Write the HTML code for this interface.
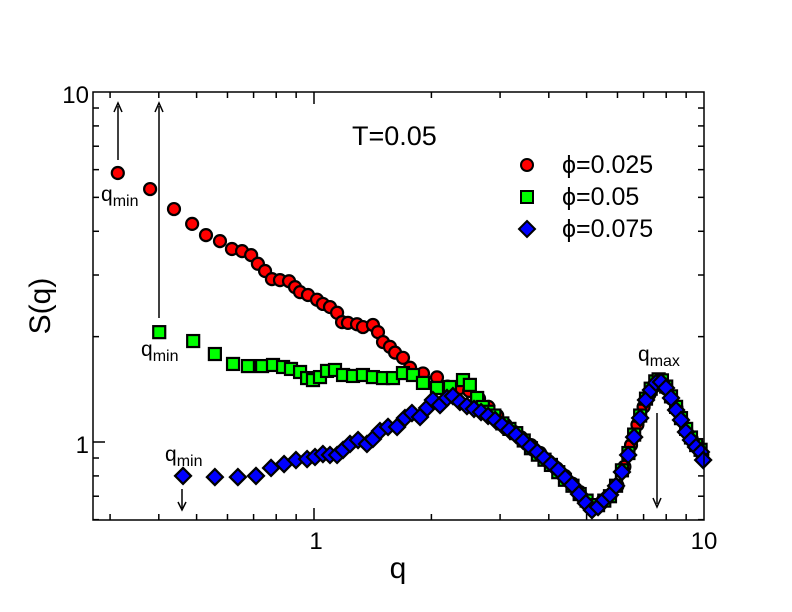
<!DOCTYPE html>
<html><head><meta charset="utf-8"><style>
body{margin:0;background:#fff}
svg{display:block;font-family:"Liberation Sans",sans-serif}
</style></head><body>
<svg id="chart" width="792" height="612" viewBox="0 0 792 612">
<rect x="0" y="0" width="792" height="612" fill="#fff"/>
<g id="ticks"></g>
<g id="marks"></g>
<rect x="93" y="92" width="611" height="428" fill="none" stroke="#000" stroke-width="1.5"/>
<text x="316" y="549" font-size="24" text-anchor="middle">1</text>
<text x="704" y="549" font-size="24" text-anchor="middle">10</text>
<text x="89" y="103" font-size="24" text-anchor="end">10</text>
<text x="89" y="453" font-size="24" text-anchor="end">1</text>
<text x="398" y="578" font-size="30" text-anchor="middle">q</text>
<text transform="translate(50,306) rotate(-90)" font-size="30" text-anchor="middle">S(q)</text>
<text x="352" y="145" font-size="27">T=0.05</text>
<g>
<g><circle cx="527" cy="165" r="6" fill="#f00" stroke="#000" stroke-width="2"/><text x="562" y="173" font-size="25">ϕ=0.025</text></g>
<g><rect x="521" y="191" width="12" height="12" fill="#0f0" stroke="#000" stroke-width="2"/><text x="562" y="205" font-size="25">ϕ=0.05</text></g>
<g><path d="M527 221 L535 229 L527 237 L519 229Z" fill="#00f" stroke="#000" stroke-width="2"/><text x="562" y="237" font-size="25">ϕ=0.075</text></g>
</g>
<g stroke="#000" stroke-width="1.5" fill="#000">
<g><line x1="118" y1="160" x2="118" y2="106"/><path d="M114 112 L118 103 L122 112" fill="none"/></g>
<g><line x1="159" y1="318" x2="159" y2="106"/><path d="M155 112 L159 103 L163 112" fill="none"/></g>
<g><line x1="182" y1="489" x2="182" y2="508"/><path d="M178 502 L182 510 L186 502" fill="none"/></g>
<g><line x1="657" y1="413" x2="657" y2="504"/><path d="M653 498 L657 507 L661 498" fill="none"/></g>
</g>
<text x="101" y="201" font-size="21">q<tspan font-size="16" dy="5">min</tspan></text>
<text x="141" y="356" font-size="21">q<tspan font-size="16" dy="5">min</tspan></text>
<text x="165" y="461" font-size="21">q<tspan font-size="16" dy="5">min</tspan></text>
<text x="638" y="361" font-size="21">q<tspan font-size="16" dy="5">max</tspan></text>
</svg>
<script>
const redQ=[0.314,0.380,0.4375,0.487,0.5285,0.574,0.616,0.654,0.690,0.718,0.749,0.780,0.818,0.863,0.894,0.921,0.965,1.018,1.054,1.099,1.146,1.180,1.222,1.289,1.335,1.416,1.459,1.503,1.566,1.614,1.691,1.763,1.903,2.067,2.2,2.35,2.5,2.65,2.8,2.95,3.1,3.25,3.4,3.6,3.8,4.0,4.2,4.4,4.6,4.8,5.0,5.25,5.5,5.75,6.0,6.25,6.5,6.75,7.0,7.25,7.5,7.75,8.0,8.25,8.5,8.75,9.0,9.3,9.6,9.9];
const redS=[5.87,5.28,4.63,4.20,3.90,3.75,3.56,3.51,3.42,3.23,3.08,2.92,2.90,2.88,2.77,2.68,2.63,2.55,2.48,2.43,2.34,2.20,2.19,2.17,2.13,2.16,2.06,1.93,1.87,1.80,1.74,1.63,1.57,1.53,1.44,1.42,1.40,1.33,1.26,1.19,1.12,1.07,1.03,0.98,0.93,0.88,0.84,0.80,0.76,0.72,0.68,0.66,0.68,0.70,0.75,0.85,0.98,1.12,1.26,1.37,1.45,1.47,1.42,1.33,1.25,1.16,1.08,1.02,0.97,0.92];
const greenQ=[0.401,0.490,0.557,0.620,0.677,0.736,0.785,0.833,0.873,0.921,0.960,0.994,1.036,1.080,1.132,1.187,1.259,1.335,1.416,1.503,1.594,1.691,1.794,1.903,2.067,2.232,2.41,2.51,2.62,2.71,2.8,2.9,3.04,3.17,3.3,3.45,3.6,3.75,3.9,4.05,4.23,4.4,4.6,4.8,5.0,5.17,5.35,5.55,5.74,5.95,6.16,6.4,6.62,6.86,7.1,7.3,7.5,7.65,7.8,8.0,8.23,8.48,8.73,9.0,9.26,9.55,9.8];
const greenS=[2.06,1.943,1.784,1.671,1.648,1.648,1.660,1.638,1.617,1.585,1.523,1.503,1.533,1.596,1.606,1.554,1.544,1.554,1.533,1.523,1.523,1.574,1.554,1.475,1.427,1.436,1.503,1.456,1.336,1.259,1.22,1.19,1.13,1.09,1.06,1.01,0.96,0.92,0.89,0.86,0.82,0.78,0.75,0.71,0.68,0.66,0.66,0.68,0.70,0.75,0.83,0.93,1.05,1.19,1.33,1.42,1.49,1.51,1.50,1.44,1.35,1.26,1.17,1.09,1.03,0.98,0.95];
const blueQ=[0.4615,0.557,0.638,0.710,0.776,0.838,0.899,0.960,1.006,1.054,1.099,1.146,1.187,1.237,1.297,1.367,1.416,1.476,1.548,1.633,1.711,1.783,1.870,1.950,2.018,2.104,2.193,2.271,2.367,2.467,2.572,2.681,2.795,2.913,3.037,3.166,3.300,3.44,3.585,3.737,3.895,4.06,4.23,4.41,4.59,4.78,4.98,5.16,5.35,5.54,5.74,5.95,6.16,6.39,6.62,6.86,7.10,7.31,7.53,7.76,7.99,8.23,8.48,8.73,8.99,9.26,9.54,9.82,9.95];
const blueS=[0.800,0.794,0.794,0.800,0.843,0.865,0.888,0.894,0.906,0.924,0.918,0.918,0.949,0.987,1.013,0.987,1.020,1.075,1.104,1.104,1.171,1.210,1.179,1.251,1.318,1.275,1.336,1.353,1.301,1.267,1.243,1.218,1.187,1.156,1.118,1.082,1.047,1.007,0.968,0.936,0.900,0.865,0.832,0.789,0.754,0.710,0.669,0.639,0.652,0.683,0.706,0.749,0.821,0.918,1.033,1.171,1.318,1.408,1.475,1.484,1.427,1.336,1.234,1.156,1.068,1.013,0.968,0.936,0.888];
const xMinorTicks=[0.3,0.4,0.5,0.6,0.7,0.8,0.9,2,3,4,5,6,7,8,9];
const xMajorTicks=[1];
const yMinorTicks=[0.6,0.7,0.8,0.9,2,3,4,5,6,7,8,9];
const yMajorTicks=[1];

const X0=93,X1=704,Y0=92,Y1=520;
function xs(q){return 314+390*Math.log10(q);}
function ys(s){return 442-350*Math.log10(s);}
const NS='http://www.w3.org/2000/svg';
function mk(tag,attrs,parent){const e=document.createElementNS(NS,tag);for(const k in attrs)e.setAttribute(k,attrs[k]);parent.appendChild(e);return e;}
const tg=document.getElementById('ticks');
function tick(x1,y1,x2,y2){const l=mk('line',{x1:x1,y1:y1,x2:x2,y2:y2,stroke:'#000','stroke-width':1.5},tg);

}
xMinorTicks.forEach(q=>{const x=xs(q);tick(x,Y1,x,Y1-6);tick(x,Y0,x,Y0+6);});
xMajorTicks.forEach(q=>{const x=xs(q);tick(x,Y1,x,Y1-12);tick(x,Y0,x,Y0+12);});
yMinorTicks.forEach(s=>{const y=ys(s);tick(X0,y,X0+6,y);tick(X1,y,X1-6,y);});
yMajorTicks.forEach(s=>{const y=ys(s);tick(X0,y,X0+12,y);tick(X1,y,X1-12,y);});
const mg=document.getElementById('marks');
redQ.forEach((q,i)=>{const c=mk('circle',{cx:xs(q),cy:ys(redS[i]),r:6,fill:'#f00',stroke:'#000','stroke-width':2.2},mg);

});
greenQ.forEach((q,i)=>{const x=xs(q),y=ys(greenS[i]);const r=mk('rect',{x:x-6,y:y-6,width:12,height:12,fill:'#0f0',stroke:'#000','stroke-width':2.2},mg);

});
blueQ.forEach((q,i)=>{const x=xs(q),y=ys(blueS[i]);const p=mk('path',{d:`M${x} ${y-8}L${x+8} ${y}L${x} ${y+8}L${x-8} ${y}Z`,fill:'#00f',stroke:'#000','stroke-width':2.2},mg);

});
</script>
</body></html>
